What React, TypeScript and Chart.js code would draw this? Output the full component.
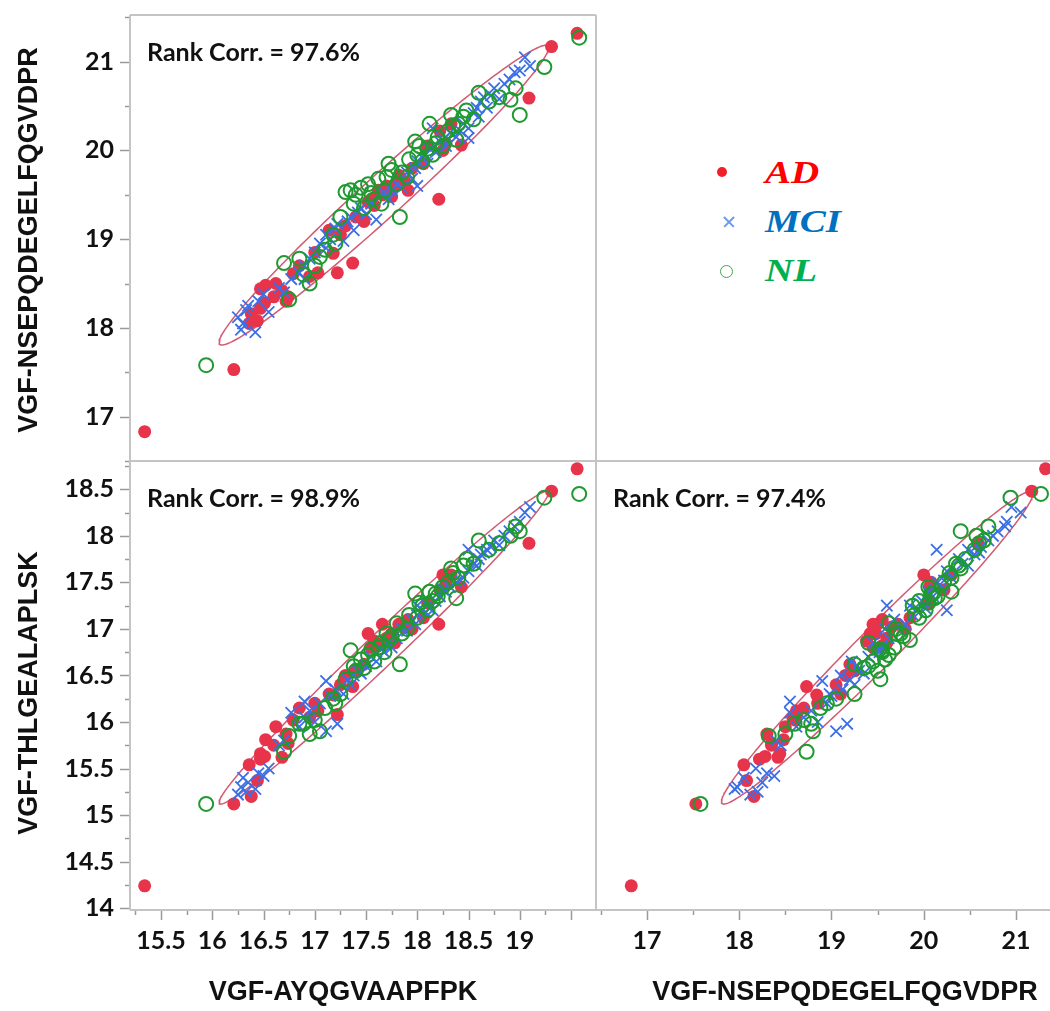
import React, { useEffect, useRef } from "react";
import { Chart, registerables } from "chart.js";

Chart.register(...registerables);

// ---------- data: one entry per sample, three peptides per sample ----------
// AD
const AD_A = [15.34, 16.21, 16.38, 16.44, 16.36, 16.47, 16.51, 16.52, 16.47, 16.72, 16.74, 16.68, 16.79, 16.95, 17.03, 17.14, 17.18, 17.22, 17.37, 17.25, 17.4, 17.48, 17.55, 17.58, 17.62, 17.7, 17.75, 17.82, 17.88, 17.91, 17.95, 18.06, 18.1, 18.21, 18.22, 18.28, 18.33, 18.25, 19.09, 19.31, 19.56, 18.43, 17.0, 16.6, 16.62, 16.85, 17.3, 17.52, 17.66, 17.78];
const AD_N = [16.83, 17.53, 18.16, 18.08, 18.05, 18.22, 18.28, 18.48, 18.44, 18.3, 18.35, 18.42, 18.61, 18.58, 18.62, 19.1, 18.84, 18.62, 18.73, 19.05, 19.25, 19.2, 19.45, 19.38, 19.55, 19.6, 19.48, 19.72, 19.65, 19.55, 19.8, 19.85, 20.05, 19.45, 20.22, 20.08, 20.3, 20.0, 20.59, 21.17, 21.32, 20.06, 18.85, 18.35, 18.5, 18.7, 19.15, 19.42, 19.5, 19.6];
const AD_T = [14.24, 15.12, 15.2, 15.37, 15.54, 15.6, 15.63, 15.81, 15.66, 15.87, 15.77, 15.62, 16.02, 16.05, 16.12, 16.3, 16.29, 16.08, 16.38, 16.4, 16.55, 16.62, 16.8, 16.87, 16.82, 16.9, 16.95, 17.05, 17.02, 17.1, 17.0, 17.12, 17.28, 17.05, 17.42, 17.5, 17.58, 17.58, 17.92, 18.48, 18.72, 17.45, 16.2, 15.75, 15.95, 16.15, 16.5, 16.95, 17.05, 16.85];
// MCI
const MCI_A = [16.25, 16.28, 16.3, 16.33, 16.35, 16.42, 16.45, 16.5, 16.55, 16.65, 16.7, 16.77, 16.85, 16.9, 16.95, 17.0, 17.05, 17.11, 17.11, 17.15, 17.2, 17.22, 17.28, 17.32, 17.38, 17.42, 17.5, 17.55, 17.6, 17.65, 17.72, 17.8, 17.85, 17.9, 17.95, 18.0, 18.05, 18.1, 18.12, 18.18, 18.22, 18.28, 18.32, 18.38, 18.45, 18.5, 18.55, 18.6, 18.62, 18.68, 18.72, 18.75, 18.8, 18.85, 18.9, 18.95, 19.0, 19.05, 19.1, 18.15, 18.5, 18.0, 16.9, 17.35, 17.45, 17.68, 17.75, 17.98, 18.08, 18.25, 18.42, 18.58, 18.65];
const MCI_N = [18.12, 17.98, 18.05, 18.2, 18.25, 17.95, 18.3, 18.38, 18.18, 18.45, 18.4, 18.55, 18.62, 18.7, 18.78, 18.85, 18.95, 18.9, 19.05, 19.0, 19.12, 19.17, 18.98, 19.2, 19.1, 19.3, 19.28, 19.4, 19.22, 19.5, 19.45, 19.62, 19.58, 19.75, 19.68, 19.88, 19.92, 19.85, 20.02, 19.98, 20.1, 20.05, 20.2, 20.15, 20.3, 20.25, 20.42, 20.38, 20.55, 20.48, 20.62, 20.7, 20.58, 20.75, 20.8, 20.88, 20.9, 21.05, 20.95, 20.25, 20.14, 19.6, 18.55, 19.25, 19.35, 19.52, 19.55, 19.8, 19.95, 20.12, 20.22, 20.48, 20.6];
const MCI_T = [15.22, 15.3, 15.4, 15.25, 15.35, 15.28, 15.45, 15.42, 15.5, 15.75, 15.8, 16.1, 15.95, 16.05, 16.12, 16.0, 16.2, 16.44, 15.9, 16.28, 16.35, 15.98, 16.3, 16.45, 16.5, 16.55, 16.6, 16.7, 16.65, 16.78, 16.85, 16.9, 17.0, 16.98, 17.1, 17.15, 17.2, 17.25, 17.22, 17.3, 17.35, 17.4, 17.45, 17.5, 17.55, 17.62, 17.7, 17.75, 17.8, 17.85, 17.88, 17.95, 17.9, 18.0, 18.05, 18.1, 18.15, 18.25, 18.31, 17.2, 17.85, 17.25, 16.22, 16.4, 16.52, 16.75, 16.8, 17.05, 17.18, 17.42, 17.52, 17.68, 17.82];
// NL
const NL_A = [15.94, 16.85, 16.75, 16.95, 17.0, 17.1, 17.18, 17.25, 17.4, 17.35, 17.45, 17.48, 17.52, 17.58, 17.62, 17.68, 17.72, 17.83, 17.8, 17.85, 17.9, 17.98, 18.0, 18.05, 18.1, 18.15, 18.2, 18.25, 18.3, 18.33, 18.38, 18.4, 18.48, 18.55, 18.7, 18.8, 18.91, 18.96, 19.0, 19.24, 19.58, 17.2, 17.65, 18.12, 18.6, 17.05, 16.89, 16.7, 17.3, 17.75, 17.38, 17.55, 17.7, 17.92, 18.02, 18.18, 18.35, 18.45];
const NL_N = [17.58, 18.78, 18.32, 18.5, 18.7, 18.88, 19.05, 19.25, 19.5, 19.55, 19.58, 19.35, 19.62, 19.45, 19.68, 19.55, 19.85, 19.25, 19.62, 19.75, 19.7, 20.1, 19.95, 19.88, 20.02, 19.95, 20.15, 20.05, 20.22, 20.4, 20.12, 20.3, 20.45, 20.35, 20.55, 20.6, 20.57, 20.7, 20.4, 20.94, 21.27, 18.95, 19.4, 20.3, 20.65, 18.8, 18.6, 18.73, 19.53, 19.78, 19.4, 19.52, 19.7, 19.9, 20.05, 20.08, 20.28, 20.38];
const NL_T = [15.12, 15.98, 15.85, 15.87, 16.02, 16.15, 16.25, 16.3, 16.55, 16.77, 16.67, 16.58, 16.72, 16.65, 16.8, 16.75, 16.88, 16.62, 17.06, 16.95, 17.0, 17.38, 17.12, 17.25, 17.2, 17.3, 17.35, 17.45, 17.5, 17.65, 17.33, 17.55, 17.75, 17.7, 17.85, 17.92, 18.0, 18.1, 18.05, 18.41, 18.45, 16.2, 16.85, 17.4, 17.95, 15.9, 15.98, 15.68, 16.46, 16.92, 16.6, 16.78, 16.95, 17.15, 17.28, 17.38, 17.6, 17.68];

// ---------- ticks ----------
const A_MAJOR = [15.5, 16, 16.5, 17, 17.5, 18, 18.5, 19, 19.5];
const A_LABELS = ["15.5", "16", "16.5", "17", "17.5", "18", "18.5", "19", ""];
const A_MINOR = [15.25, 15.75, 16.25, 16.75, 17.25, 17.75, 18.25, 18.75, 19.25];
const N_MAJOR = [17, 18, 19, 20, 21];
const N_LABELS = ["17", "18", "19", "20", "21"];
const N_MINOR = [16.5, 17.5, 18.5, 19.5, 20.5, 21.5];
const T_MAJOR = [14, 14.5, 15, 15.5, 16, 16.5, 17, 17.5, 18, 18.5];
const T_LABELS = ["14", "14.5", "15", "15.5", "16", "16.5", "17", "17.5", "18", "18.5"];
const T_MINOR = [14.25, 14.75, 15.25, 15.75, 16.25, 16.75, 17.25, 17.75, 18.25, 18.75];

const RANK_CORR = ["Rank Corr. = 97.6%", "Rank Corr. = 98.9%", "Rank Corr. = 97.4%"];
const TITLE_A = "VGF-AYQGVAAPFPK";
const TITLE_N = "VGF-NSEPQDEGELFQGVDPR";
const TITLE_T = "VGF-THLGEALAPLSK";

// ---------- styling ----------
const C_AD = "#e8344a";
const C_MCI = "#3b6fe6";
const C_NL = "#1e9a30";
const C_ELL = "#d25a72";
const FRAME = "#c4c4c4";
const TICKC = "#9a9a9a";
const TICK_FONT = { family: "Lato", size: 25, weight: "bold" as const };
const ELLIPSE_K = 2.0;

type Axis = { min: number; max: number; major: number[]; labels: string[]; minor: number[] };
const AX_A: Axis = { min: 15.197, max: 19.744, major: A_MAJOR, labels: A_LABELS, minor: A_MINOR };
const AX_NY: Axis = { min: 16.5, max: 21.526, major: N_MAJOR, labels: N_LABELS, minor: N_MINOR };
const AX_NX: Axis = { min: 16.448, max: 21.368, major: N_MAJOR, labels: N_LABELS, minor: N_MINOR };
const AX_T: Axis = { min: 13.98, max: 18.804, major: T_MAJOR, labels: T_LABELS, minor: T_MINOR };

function pairs(xs: number[], ys: number[]) {
  return xs.map((x, i) => ({ x, y: ys[i] }));
}

function ellipse(xs: number[], ys: number[], k: number) {
  const n = xs.length;
  const mx = xs.reduce((a, b) => a + b, 0) / n;
  const my = ys.reduce((a, b) => a + b, 0) / n;
  let sxx = 0, syy = 0, sxy = 0;
  for (let i = 0; i < n; i++) {
    const dx = xs[i] - mx, dy = ys[i] - my;
    sxx += dx * dx; syy += dy * dy; sxy += dx * dy;
  }
  sxx /= n - 1; syy /= n - 1; sxy /= n - 1;
  const l11 = Math.sqrt(sxx);
  const l21 = sxy / l11;
  const l22 = Math.sqrt(Math.max(syy - l21 * l21, 1e-9));
  const out: { x: number; y: number }[] = [];
  for (let i = 0; i <= 240; i++) {
    const t = (2 * Math.PI * i) / 240;
    const u = Math.cos(t), v = Math.sin(t);
    out.push({ x: mx + k * l11 * u, y: my + k * (l21 * u + l22 * v) });
  }
  return out;
}

const framePlugin = {
  id: "panelFrame",
  afterDatasetsDraw(chart: any, _args: any, opts: any) {
    const { ctx, chartArea: a } = chart;
    ctx.save();
    ctx.strokeStyle = TICKC;
    ctx.lineWidth = 1.5;
    if (opts.xAxis) {
      const s = chart.scales.x;
      const ax: Axis = opts.xAxis;
      const draw = (v: number, len: number) => {
        if (v < ax.min || v > ax.max) return;
        const p = Math.round(s.getPixelForValue(v)) + 0.5;
        ctx.beginPath(); ctx.moveTo(p, a.bottom); ctx.lineTo(p, a.bottom + len); ctx.stroke();
      };
      ax.major.forEach((v) => draw(v, 10));
      ax.minor.forEach((v) => draw(v, 5));
    }
    if (opts.yAxis) {
      const s = chart.scales.y;
      const ax: Axis = opts.yAxis;
      const draw = (v: number, len: number) => {
        if (v < ax.min || v > ax.max) return;
        const p = Math.round(s.getPixelForValue(v)) + 0.5;
        ctx.beginPath(); ctx.moveTo(a.left - len, p); ctx.lineTo(a.left, p); ctx.stroke();
      };
      ax.major.forEach((v) => draw(v, 10));
      ax.minor.forEach((v) => draw(v, 5));
    }
    ctx.strokeStyle = FRAME;
    ctx.lineWidth = 2;
    const sides = opts.sides || {};
    ctx.beginPath();
    if (sides.top) { ctx.moveTo(a.left, a.top); ctx.lineTo(a.right, a.top); }
    if (sides.bottom) { ctx.moveTo(a.left, a.bottom); ctx.lineTo(a.right, a.bottom); }
    if (sides.left) { ctx.moveTo(a.left, a.top); ctx.lineTo(a.left, a.bottom); }
    if (sides.right) { ctx.moveTo(a.right, a.top); ctx.lineTo(a.right, a.bottom); }
    ctx.stroke();
    if (opts.note) {
      ctx.font = "bold 25px Lato";
      ctx.fillStyle = "#111";
      ctx.textBaseline = "middle";
      ctx.textAlign = "left";
      ctx.fillText(opts.note, a.left + 17, a.top + 38);
    }
    ctx.restore();
  },
};

function scaleOpts(ax: Axis, show: boolean, horizontal: boolean) {
  return {
    type: "linear",
    position: horizontal ? "bottom" : "left",
    min: ax.min,
    max: ax.max,
    display: show,
    afterBuildTicks: (s: any) => {
      s.ticks = ax.major.map((value) => ({ value }));
    },
    afterFit: (s: any) => {
      s.paddingTop = 0;
      s.paddingBottom = 0;
      s.paddingLeft = 0;
      s.paddingRight = 0;
      if (!show) return;
      if (horizontal) s.height = 101;
      else s.width = 130;
    },
    ticks: {
      autoSkip: false,
      maxRotation: 0,
      minRotation: 0,
      padding: 16,
      color: "#111",
      font: TICK_FONT,
      callback: (_v: any, i: number) => ax.labels[i] ?? "",
    },
    grid: { display: false, drawTicks: false },
    border: { display: false },
  };
}

type Panel = {
  xa: Axis; ya: Axis; showX: boolean; showY: boolean;
  ad: [number[], number[]]; mci: [number[], number[]]; nl: [number[], number[]];
  padding: any; sides: any; note: string;
};

function buildConfig(p: Panel) {
  const allX = [...p.ad[0], ...p.mci[0], ...p.nl[0]];
  const allY = [...p.ad[1], ...p.mci[1], ...p.nl[1]];
  return {
    type: "scatter",
    data: {
      datasets: [
        {
          label: "ellipse", data: ellipse(allX, allY, ELLIPSE_K), showLine: true, pointRadius: 0,
          borderColor: C_ELL, borderWidth: 1.5, fill: false, tension: 0, order: 4, clip: 0,
        },
        {
          label: "AD", data: pairs(p.ad[0], p.ad[1]), pointStyle: "circle", pointRadius: 6.5,
          backgroundColor: C_AD, borderColor: C_AD, borderWidth: 0, order: 3, clip: 0,
        },
        {
          label: "MCI", data: pairs(p.mci[0], p.mci[1]), pointStyle: "crossRot", pointRadius: 8,
          backgroundColor: C_MCI, borderColor: C_MCI, borderWidth: 1.8, order: 2, clip: 0,
        },
        {
          label: "NL", data: pairs(p.nl[0], p.nl[1]), pointStyle: "circle", pointRadius: 7,
          backgroundColor: "rgba(0,0,0,0)", borderColor: C_NL, borderWidth: 2, order: 1, clip: 0,
        },
      ],
    },
    options: {
      responsive: false,
      maintainAspectRatio: false,
      animation: false,
      devicePixelRatio: 1,
      events: [],
      layout: { padding: p.padding, autoPadding: false },
      scales: {
        x: scaleOpts(p.xa, p.showX, true),
        y: scaleOpts(p.ya, p.showY, false),
      },
      plugins: {
        legend: { display: false },
        tooltip: { enabled: false },
        panelFrame: {
          xAxis: p.showX ? p.xa : null,
          yAxis: p.showY ? p.ya : null,
          sides: p.sides,
          note: p.note,
        },
      },
    },
    plugins: [framePlugin],
  } as any;
}

const PANELS: { left: number; top: number; width: number; height: number; panel: Panel }[] = [
  {
    left: 0, top: 0, width: 600, height: 470,
    panel: {
      xa: AX_A, ya: AX_NY, showX: false, showY: true,
      ad: [AD_A, AD_N], mci: [MCI_A, MCI_N], nl: [NL_A, NL_N],
      padding: { top: 15, right: 4, bottom: 9, left: 0 },
      sides: { top: true, bottom: true, left: true, right: true }, note: RANK_CORR[0],
    },
  },
  {
    left: 0, top: 455, width: 600, height: 556,
    panel: {
      xa: AX_A, ya: AX_T, showX: true, showY: true,
      ad: [AD_A, AD_T], mci: [MCI_A, MCI_T], nl: [NL_A, NL_T],
      padding: { top: 6, right: 4, bottom: 0, left: 0 },
      sides: { top: true, bottom: true, left: true, right: true }, note: RANK_CORR[1],
    },
  },
  {
    left: 596, top: 455, width: 454, height: 556,
    panel: {
      xa: AX_NX, ya: AX_T, showX: true, showY: false,
      ad: [AD_N, AD_T], mci: [MCI_N, MCI_T], nl: [NL_N, NL_T],
      padding: { top: 6, right: 0, bottom: 0, left: 0 },
      sides: { top: true, bottom: true, left: true, right: false }, note: RANK_CORR[2],
    },
  },
];

const titleStyle: React.CSSProperties = {
  position: "absolute",
  fontFamily: "'Liberation Sans', Arial, sans-serif",
  fontWeight: "bold",
  fontSize: 27,
  color: "#111",
  whiteSpace: "nowrap",
  lineHeight: 1,
};

const legendText: React.CSSProperties = {
  position: "absolute",
  left: 765,
  fontFamily: "'Liberation Serif', 'Times New Roman', serif",
  fontWeight: "bold",
  fontStyle: "italic",
  fontSize: 32,
  lineHeight: 1,
  whiteSpace: "nowrap",
  transform: "translateY(-50%) scaleX(1.22)",
  transformOrigin: "left center",
};

export default function App() {
  const refs = [useRef<HTMLCanvasElement>(null), useRef<HTMLCanvasElement>(null), useRef<HTMLCanvasElement>(null)];

  useEffect(() => {
    const charts = PANELS.map((p, i) => new Chart(refs[i].current as HTMLCanvasElement, buildConfig(p.panel)));
    return () => charts.forEach((c) => c.destroy());
  }, []);

  return (
    <div style={{ position: "absolute", left: 0, top: 0, width: 1050, height: 1011, background: "#fff", overflow: "hidden" }}>
      {PANELS.map((p, i) => (
        <canvas
          key={i}
          ref={refs[i]}
          width={p.width}
          height={p.height}
          style={{ position: "absolute", left: p.left, top: p.top, width: p.width, height: p.height }}
        />
      ))}
      <div style={{ ...titleStyle, left: 28, top: 240, transform: "translate(-50%, -50%) rotate(-90deg)" }}>{TITLE_N}</div>
      <div style={{ ...titleStyle, left: 28, top: 693, transform: "translate(-50%, -50%) rotate(-90deg)" }}>{TITLE_T}</div>
      <div style={{ ...titleStyle, left: 343, top: 991, transform: "translate(-50%, -50%)" }}>{TITLE_A}</div>
      <div style={{ ...titleStyle, left: 845, top: 991, transform: "translate(-50%, -50%)" }}>{TITLE_N}</div>

      {/* legend */}
      <div style={{ position: "absolute", left: 717, top: 167, width: 10, height: 10, borderRadius: "50%", background: "#f0202a" }} />
      <div style={{ position: "absolute", left: 722, top: 221, width: 14, height: 1.6, background: "#6d9be6", transform: "rotate(45deg)" }} />
      <div style={{ position: "absolute", left: 722, top: 221, width: 14, height: 1.6, background: "#6d9be6", transform: "rotate(-45deg)" }} />
      <div style={{ position: "absolute", left: 720, top: 265, width: 11, height: 11, borderRadius: "50%", border: "1.6px solid #3aaa4a" }} />
      <div style={{ ...legendText, top: 172, color: "#ff0000" }}>AD</div>
      <div style={{ ...legendText, top: 221, color: "#0070c0" }}>MCI</div>
      <div style={{ ...legendText, top: 270, color: "#00b050" }}>NL</div>
    </div>
  );
}
